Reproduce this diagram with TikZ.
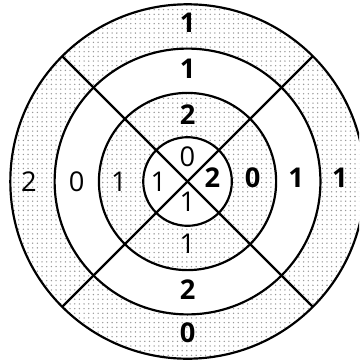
\documentclass[tikz,border=0pt]{standalone}
\usepackage{fontspec}
\setmainfont{Open Sans}
\usetikzlibrary{patterns}
\tikzset{
  ring line/.style={line width=1.4pt},
  ring fill/.style={pattern=dots, pattern color=black!40},
  score/.style={font=\fontsize{17.5}{20}\selectfont, inner sep=0pt},
  bold score/.style={score, font=\fontsize{17.5}{20}\selectfont\bfseries}
}
\begin{document}
\begin{tikzpicture}
  \useasboundingbox (-4.233,-4.029) rectangle (3.871,4.097);
  \clip (-4.233,-4.029) rectangle (3.871,4.097);
  % shaded rings
  \fill[ring fill, even odd rule] (0,0) circle (4) (0,0) circle (3);
  \fill[ring fill, even odd rule] (0,0) circle (2) (0,0) circle (1);
  % circles and cross
  \foreach \r in {1,...,4}
    \draw[ring line] (0,0) circle (\r);
  \coordinate (ne) at (45:4);
  \coordinate (nw) at (135:4);
  \coordinate (sw) at (225:4);
  \coordinate (se) at (-45:4);
  \draw[ring line] (ne) -- (sw);
  \draw[ring line] (nw) -- (se);
  % top sector
  \node[bold score] (top4) at (0,3.59) {1};
  \node[bold score] (top3) at (0,2.54) {1};
  \node[bold score] (top2) at (0,1.52) {2};
  \node[score] (top1) at (0,0.55) {0};
  % bottom sector
  \node[score] (bot1) at (0,-0.46) {1};
  \node[score] (bot2) at (0,-1.41) {1};
  \node[bold score] (bot3) at (0,-2.45) {2};
  \node[bold score] (bot4) at (0,-3.42) {0};
  % left sector
  \node[score] (left4) at (-3.58,0) {2};
  \node[score] (left3) at (-2.5,0) {0};
  \node[score] (left2) at (-1.55,0) {1};
  \node[score] (left1) at (-0.66,0) {1};
  % right sector
  \node[bold score] (right1) at (0.56,0.08) {2};
  \node[bold score] (right2) at (1.47,0.08) {0};
  \node[bold score] (right3) at (2.45,0.08) {1};
  \node[bold score] (right4) at (3.44,0.08) {1};
\end{tikzpicture}
\end{document}
